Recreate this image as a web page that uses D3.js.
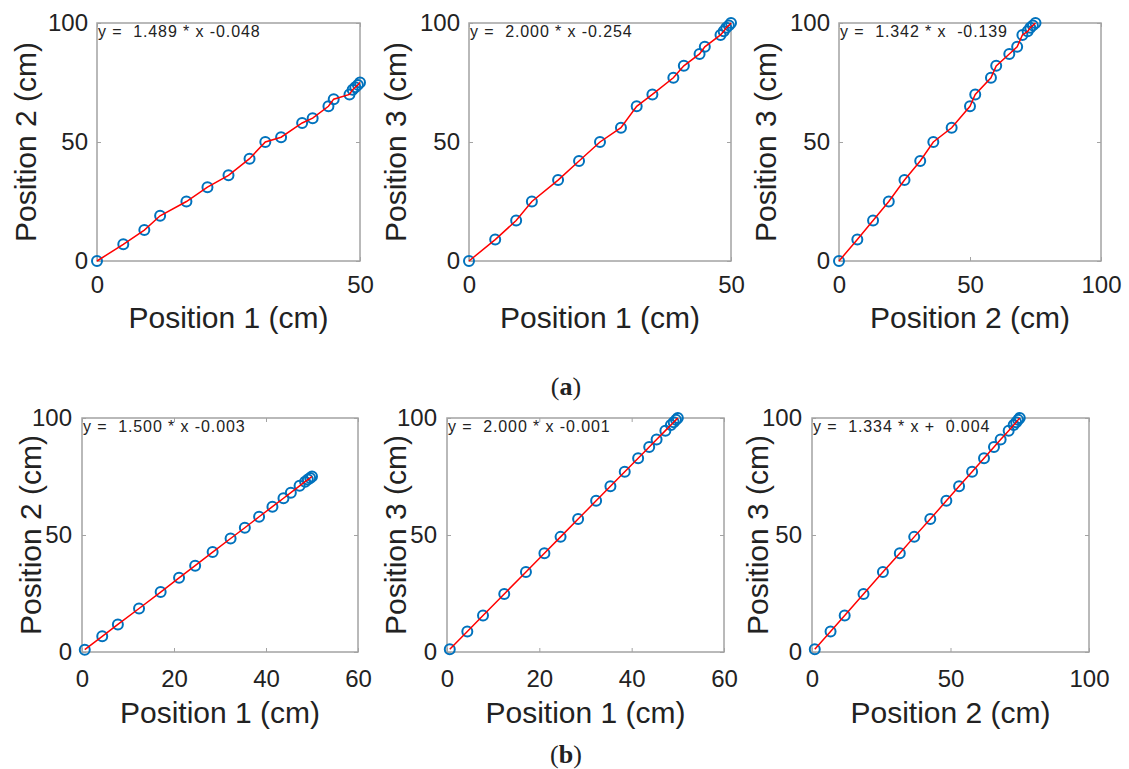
<!DOCTYPE html>
<html>
  <head>
    <meta charset="utf-8" />
    <title>position calibration</title>
    <script src="https://cdn.jsdelivr.net/npm/d3@7"></script>
    <style type="text/css">
      body { margin: 0; background: #fff; }
      text { font-family: "Liberation Sans", Arial, sans-serif; fill: #222; }
      .eq { white-space: pre; }
    </style>
  </head>

  <body>
    <svg id="chart" width="1129" height="769"></svg>
    <script type="text/javascript">
      // group (a): three positions
      var aPos1 = [0, 5, 9, 12, 17, 21, 25, 29, 32, 35, 39, 41, 44, 45, 48, 48.6, 49.1, 49.6, 50];
      var aPos2 = [0, 7, 13, 19, 25, 31, 36, 43, 50, 52, 58, 60, 65, 68, 70, 72, 73, 74, 75];
      var aPos3 = [0, 9, 17, 25, 34, 42, 50, 56, 65, 70, 77, 82, 87, 90, 95, 96.5, 98, 99, 100];

      // group (b)
      var bPos1 = [0.6, 4.4, 7.8, 12.4, 17.1, 21.1, 24.6, 28.4, 32.3, 35.4, 38.5, 41.4, 43.8, 45.4, 47.3, 48.5, 49.1, 49.6, 50];
      var bPos2 = [1, 6.7, 11.8, 18.6, 25.6, 31.7, 36.9, 42.7, 48.5, 53.1, 57.8, 62.1, 65.7, 68.1, 71, 72.8, 73.7, 74.4, 75];
      var bPos3 = [1.2, 8.8, 15.6, 24.8, 34.2, 42.2, 49.2, 56.8, 64.6, 70.8, 77, 82.8, 87.6, 90.8, 94.6, 97, 98.2, 99.2, 100];

      // tick labels
      var yTicks = [0, 50, 100];
      var aTicks50 = [0, 50];
      var ticks100 = [0, 50, 100];
      var bTicks60 = [0, 20, 40, 60];

      var equations = [
        'y =  1.489 * x -0.048',
        'y =  2.000 * x -0.254',
        'y =  1.342 * x  -0.139',
        'y =  1.500 * x -0.003',
        'y =  2.000 * x -0.001',
        'y =  1.334 * x +  0.004'
      ];
      var captions = ['a', 'b'];

      var panels = [
        { xs: aPos1, ys: aPos2, xMax: 50, xt: aTicks50, xl: 'Position 1 (cm)', yl: 'Position 2 (cm)', L: 97, T: 23, W: 263, H: 238, yo: 72, xb: 32, lb: 67 },
        { xs: aPos1, ys: aPos3, xMax: 50, xt: aTicks50, xl: 'Position 1 (cm)', yl: 'Position 3 (cm)', L: 469, T: 23, W: 262, H: 238, yo: 74, xb: 32, lb: 67 },
        { xs: aPos2, ys: aPos3, xMax: 100, xt: ticks100, xl: 'Position 2 (cm)', yl: 'Position 3 (cm)', L: 839, T: 23, W: 262, H: 238, yo: 74, xb: 32, lb: 67 },
        { xs: bPos1, ys: bPos2, xMax: 60, xt: bTicks60, xl: 'Position 1 (cm)', yl: 'Position 2 (cm)', L: 82, T: 418, W: 276, H: 234, yo: 52, xb: 35, lb: 71 },
        { xs: bPos1, ys: bPos3, xMax: 60, xt: bTicks60, xl: 'Position 1 (cm)', yl: 'Position 3 (cm)', L: 447, T: 418, W: 277, H: 234, yo: 52, xb: 35, lb: 71 },
        { xs: bPos2, ys: bPos3, xMax: 100, xt: ticks100, xl: 'Position 2 (cm)', yl: 'Position 3 (cm)', L: 812, T: 418, W: 277, H: 234, yo: 55, xb: 35, lb: 71 }
      ];

      var svg = d3.select('#chart');
      svg.append('rect').attr('width', 1129).attr('height', 769).attr('fill', '#fff');

      panels.forEach(function (p, i) {
        var g = svg.append('g').attr('transform', 'translate(' + p.L + ',' + p.T + ')');
        var sx = d3.scaleLinear().domain([0, p.xMax]).range([0, p.W]);
        var sy = d3.scaleLinear().domain([0, 100]).range([p.H, 0]);

        // box
        g.append('rect')
          .attr('width', p.W).attr('height', p.H)
          .attr('fill', 'none').attr('stroke', '#a3a3a3').attr('stroke-width', 1.5);

        // inward ticks, labels only on bottom / left
        var ax = [
          [d3.axisBottom(sx).tickValues(p.xt).tickFormat(d3.format('d')).tickPadding(p.xb - 17), 'translate(0,' + p.H + ')'],
          [d3.axisTop(sx).tickValues(p.xt).tickFormat(''), null],
          [d3.axisLeft(sy).tickValues(yTicks).tickFormat(d3.format('d')).tickPadding(i < 3 ? 9 : 10), null],
          [d3.axisRight(sy).tickValues(yTicks).tickFormat(''), 'translate(' + p.W + ',0)']
        ];
        ax.forEach(function (a) {
          var ag = g.append('g');
          if (a[1]) ag.attr('transform', a[1]);
          ag.call(a[0].tickSizeInner(-4).tickSizeOuter(0));
          ag.select('.domain').remove();
          ag.selectAll('.tick line').attr('stroke', '#a3a3a3');
          ag.selectAll('.tick text')
            .attr('fill', '#222')
            .style('font-size', '24px')
            .style('font-family', '"Liberation Sans", Arial, sans-serif');
        });

        // equation
        g.append('text')
          .attr('class', 'eq')
          .attr('x', 1).attr('y', 14)
          .style('font-size', '16px')
          .style('letter-spacing', '0.9px')
          .text(equations[i]);

        // markers then connecting line
        var pts = p.xs.map(function (d, k) { return [d, p.ys[k]]; });
        g.append('g')
          .selectAll('circle')
          .data(pts)
          .enter()
          .append('circle')
          .attr('cx', (d) => sx(d[0]))
          .attr('cy', (d) => sy(d[1]))
          .attr('r', 5)
          .attr('fill', 'none')
          .attr('stroke', '#0072bd')
          .attr('stroke-width', 2);

        var lineMaker = d3.line().x((d) => sx(d[0])).y((d) => sy(d[1]));
        g.append('path')
          .attr('fill', 'none')
          .attr('stroke', '#ff0000')
          .attr('stroke-width', 1.5)
          .attr('d', lineMaker(pts));

        // axis labels
        g.append('text')
          .attr('x', p.W / 2).attr('y', p.H + p.lb)
          .attr('text-anchor', 'middle')
          .style('font-size', '30px')
          .text(p.xl);
        g.append('text')
          .attr('transform', 'translate(' + (-p.yo) + ',' + p.H / 2 + ') rotate(-90)')
          .attr('text-anchor', 'middle')
          .attr('dy', '0.35em')
          .style('font-size', '30px')
          .text(p.yl);
      });

      // sub-figure captions
      var capY = [395, 763];
      captions.forEach(function (c, i) {
        var t = svg.append('text')
          .attr('x', 566).attr('y', capY[i])
          .attr('text-anchor', 'middle')
          .style('font-family', '"Liberation Serif", "DejaVu Serif", serif')
          .style('font-size', '26px');
        t.append('tspan').text('(');
        t.append('tspan').style('font-weight', 'bold').text(c);
        t.append('tspan').text(')');
      });
    </script>
  </body>
</html>
